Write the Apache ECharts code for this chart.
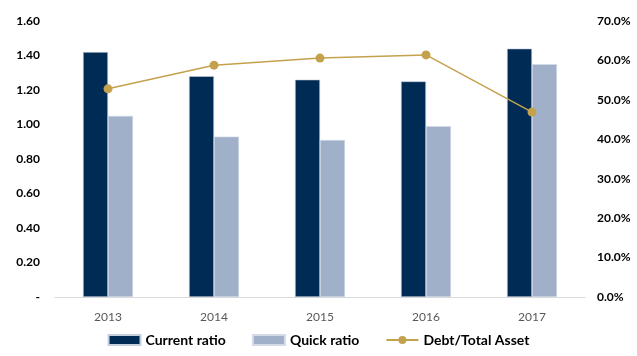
<!DOCTYPE html>
<html>
<head>
<meta charset="utf-8">
<script src="https://cdn.jsdelivr.net/npm/echarts@6/dist/echarts.min.js"></script>
<style>
  html, body { margin: 0; padding: 0; background: #fff; }
  #chart { width: 637px; height: 356px; }
</style>
</head>
<body>
<div id="chart"></div>
<script>
const years = ['2013', '2014', '2015', '2016', '2017']
const currentRatio = [1.42, 1.28, 1.26, 1.25, 1.44]
const quickRatio = [1.05, 0.93, 0.91, 0.99, 1.35]
const debtToAsset = [52.8, 58.8, 60.6, 61.4, 46.9]

const font = 'Lato, "Open Sans", sans-serif'

const chart = echarts.init(document.getElementById('chart'))

const option = {
  animation: false,
  textStyle: { fontFamily: font },
  grid: { left: 55, right: 52, top: 21, bottom: 59 },
  legend: {
    bottom: 4,
    left: 'center',
    itemWidth: 32,
    itemHeight: 10,
    itemGap: 26,
    textStyle: { fontFamily: font, fontSize: 14, fontWeight: 'bold', color: '#000' },
    data: [
      { name: 'Current ratio', icon: 'rect' },
      { name: 'Quick ratio', icon: 'rect' },
      { name: 'Debt/Total Asset' }
    ]
  },
  xAxis: {
    type: 'category',
    data: years,
    axisTick: { show: false },
    axisLine: { lineStyle: { color: '#d9d9d9' } },
    axisLabel: { color: '#595959', fontSize: 12, margin: 14 }
  },
  yAxis: [
    {
      type: 'value',
      min: 0,
      max: 1.6,
      interval: 0.2,
      splitLine: { show: false },
      axisLabel: {
        color: '#000',
        fontWeight: 'bold',
        fontSize: 12,
        margin: 15,
        formatter: v => (v === 0 ? '-' : v.toFixed(2))
      }
    },
    {
      type: 'value',
      min: 0,
      max: 70,
      interval: 10,
      splitLine: { show: false },
      axisLabel: {
        color: '#000',
        fontWeight: 'bold',
        fontSize: 12,
        margin: 12,
        formatter: v => v.toFixed(1) + '%'
      }
    }
  ],
  series: [
    {
      name: 'Current ratio',
      type: 'bar',
      data: currentRatio,
      barWidth: 25,
      barGap: '0%',
      itemStyle: { color: '#002b55', borderColor: '#c5cfde', borderWidth: 0.6 }
    },
    {
      name: 'Quick ratio',
      type: 'bar',
      data: quickRatio,
      barWidth: 25,
      itemStyle: { color: '#a0b0c9', borderColor: '#d3dbe7', borderWidth: 0.6 }
    },
    {
      name: 'Debt/Total Asset',
      type: 'line',
      yAxisIndex: 1,
      data: debtToAsset,
      symbol: 'circle',
      symbolSize: 9,
      lineStyle: { color: '#c4a24d', width: 1.5 },
      itemStyle: { color: '#c4a24d' }
    }
  ]
}

chart.setOption(option)
</script>
</body>
</html>
